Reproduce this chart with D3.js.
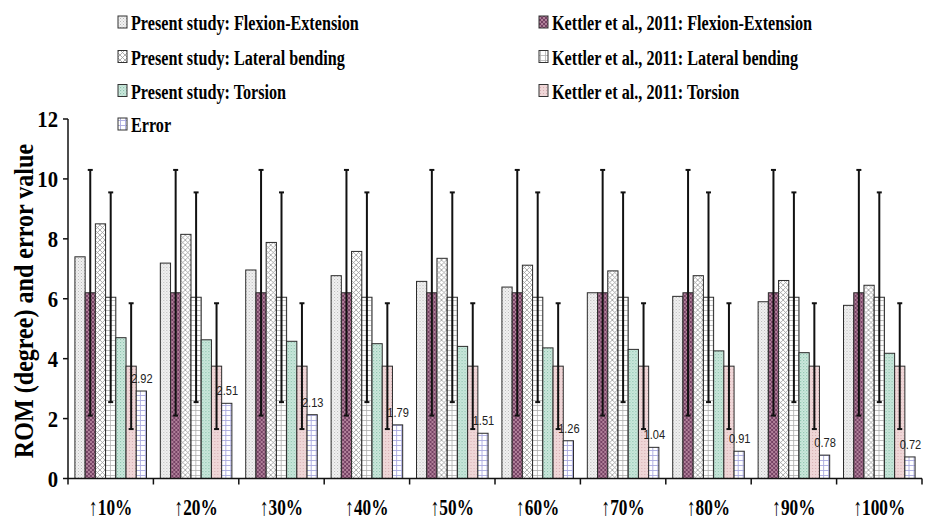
<!DOCTYPE html>
<html>
<head>
<meta charset="utf-8">
<script src="https://cdn.jsdelivr.net/npm/d3@7"></script>
<style>
  html, body { margin: 0; padding: 0; background: #fff; }
  svg { display: block; }
</style>
</head>
<body>
<svg id="chart" width="925" height="521"></svg>
<script>
// Range of motion per load step
const categories = ["↑10%", "↑20%", "↑30%", "↑40%", "↑50%", "↑60%", "↑70%", "↑80%", "↑90%", "↑100%"];
const seriesNames = [
  "Present study: Flexion-Extension",
  "Kettler et al., 2011: Flexion-Extension",
  "Present study: Lateral bending",
  "Kettler et al., 2011: Lateral bending",
  "Present study: Torsion",
  "Kettler et al., 2011: Torsion",
  "Error"
];
const presentFE = [7.4, 7.19, 6.96, 6.77, 6.58, 6.39, 6.2, 6.08, 5.9, 5.78];
const kettlerFE = [6.2, 6.2, 6.2, 6.2, 6.2, 6.2, 6.2, 6.2, 6.2, 6.2];
const presentLB = [8.5, 8.15, 7.88, 7.58, 7.35, 7.12, 6.93, 6.77, 6.61, 6.45];
const kettlerLB = [6.05, 6.05, 6.05, 6.05, 6.05, 6.05, 6.05, 6.05, 6.05, 6.05];
const presentT = [4.7, 4.63, 4.58, 4.5, 4.41, 4.36, 4.31, 4.26, 4.2, 4.18];
const kettlerT = [3.75, 3.75, 3.75, 3.75, 3.75, 3.75, 3.75, 3.75, 3.75, 3.75];
const errorValues = [2.92, 2.51, 2.13, 1.79, 1.51, 1.26, 1.04, 0.91, 0.78, 0.72];
// Standard deviations reported for the reference data
const kettlerFESD = [4.1, 4.1, 4.1, 4.1, 4.1, 4.1, 4.1, 4.1, 4.1, 4.1];
const kettlerLBSD = [3.5, 3.5, 3.5, 3.5, 3.5, 3.5, 3.5, 3.5, 3.5, 3.5];
const kettlerTSD = [2.1, 2.1, 2.1, 2.1, 2.1, 2.1, 2.1, 2.1, 2.1, 2.1];
const yTicks = [0, 2, 4, 6, 8, 10, 12];

const seriesValues = [presentFE, kettlerFE, presentLB, kettlerLB, presentT, kettlerT, errorValues];
const seriesSD = [null, kettlerFESD, null, kettlerLBSD, null, kettlerTSD, null];

const SERIF = "'Liberation Serif', 'Times New Roman', 'DejaVu Serif', serif";
const NARROW = "'Liberation Sans Narrow', 'Arial Narrow', 'Liberation Sans', sans-serif";

const svg = d3.select("#chart");
const defs = svg.append("defs");

// Hatch fills for each series
function pattern(id, size, bg, draw) {
  const p = defs.append("pattern").attr("id", id)
    .attr("patternUnits", "userSpaceOnUse").attr("width", size).attr("height", size);
  p.append("rect").attr("width", size).attr("height", size).attr("fill", bg);
  draw(p);
}
pattern("pFE", 3, "#f2f2f2", p => {
  p.append("rect").attr("x", 0).attr("y", 0).attr("width", 1).attr("height", 1).attr("fill", "#b8b8b8");
  p.append("rect").attr("x", 1.5).attr("y", 1.5).attr("width", 1).attr("height", 1).attr("fill", "#c8c8c8");
});
pattern("kFE", 4, "#b08099", p => {
  p.append("path").attr("d", "M0,0 L4,4 M4,0 L0,4").attr("stroke", "#6e3b5e").attr("stroke-width", 0.9);
});
pattern("pLB", 5, "#ffffff", p => {
  p.append("path").attr("d", "M0,0 L5,5 M5,0 L0,5").attr("stroke", "#9a9a9a").attr("stroke-width", 0.8);
});
pattern("kLB", 5, "#ffffff", p => {
  p.append("path").attr("d", "M0,0.5 H5 M0.5,0 V5").attr("stroke", "#b0b0b0").attr("stroke-width", 0.8);
});
pattern("pT", 3, "#cfeadf", p => {
  p.append("rect").attr("x", 0).attr("y", 0).attr("width", 1.2).attr("height", 1.2).attr("fill", "#8cc2ad");
  p.append("rect").attr("x", 1.5).attr("y", 1.5).attr("width", 1.2).attr("height", 1.2).attr("fill", "#a8d4c3");
});
pattern("kT", 3, "#efd6d7", p => {
  p.append("rect").attr("x", 0).attr("y", 0).attr("width", 1).attr("height", 1).attr("fill", "#d6aeb2");
});
pattern("err", 5, "#ffffff", p => {
  p.append("path").attr("d", "M0,0.5 H5 M0.5,0 V5").attr("stroke", "#a9a9df").attr("stroke-width", 0.9);
});
const fills = ["url(#pFE)", "url(#kFE)", "url(#pLB)", "url(#kLB)", "url(#pT)", "url(#kT)", "url(#err)"];

const margin = { left: 68, right: 922, top: 119, bottom: 478.5 };

const x0 = d3.scaleBand().domain(categories).range([margin.left, margin.right])
  .paddingInner(0.162).paddingOuter(0.081);
const x1 = d3.scaleBand().domain(d3.range(seriesNames.length)).range([0, x0.bandwidth()]);
const y = d3.scaleLinear().domain([0, 12]).range([margin.bottom, margin.top]);

// Bars
const groups = svg.append("g").selectAll("g").data(categories).join("g")
  .attr("transform", c => `translate(${x0(c)},0)`);
groups.selectAll("rect")
  .data((c, i) => seriesValues.map((vals, s) => ({ s, v: vals[i] })))
  .join("rect")
  .attr("x", d => x1(d.s))
  .attr("width", x1.bandwidth())
  .attr("y", d => y(d.v))
  .attr("height", d => y(0) - y(d.v))
  .attr("fill", d => fills[d.s])
  .attr("stroke", "#2a2a2a").attr("stroke-width", 1);

// Value labels above the error series
const labelLayer = svg.append("g");
categories.forEach((c, i) => {
  const cx = x0(c) + x1(6) + x1.bandwidth() / 2;
  labelLayer.append("text")
    .attr("font-family", NARROW).attr("fill", "#222")
    .attr("transform", `translate(${cx + 0.5},${y(errorValues[i]) - 8}) scale(0.85,1)`)
    .attr("text-anchor", "middle").attr("font-size", 13)
    .text(errorValues[i].toFixed(2));
});

// Error bars on the reference series
const eb = svg.append("g").attr("stroke", "#111").attr("stroke-width", 2);
categories.forEach((c, i) => {
  seriesSD.forEach((sd, s) => {
    if (!sd) return;
    const cx = x0(c) + x1(s) + x1.bandwidth() / 2;
    const hi = y(seriesValues[s][i] + sd[i]);
    const lo = y(seriesValues[s][i] - sd[i]);
    eb.append("line").attr("x1", cx).attr("x2", cx).attr("y1", hi).attr("y2", lo);
    eb.append("line").attr("x1", cx - 2.5).attr("x2", cx + 2.5).attr("y1", hi).attr("y2", hi);
    eb.append("line").attr("x1", cx - 2.5).attr("x2", cx + 2.5).attr("y1", lo).attr("y2", lo);
  });
});

// Axes
const axes = svg.append("g").attr("stroke", "#111").attr("stroke-width", 1.5);
axes.append("line").attr("x1", margin.left).attr("x2", margin.left).attr("y1", y(12)).attr("y2", y(0));
axes.append("line").attr("x1", margin.left).attr("x2", margin.right).attr("y1", y(0)).attr("y2", y(0));
yTicks.forEach(t => {
  axes.append("line").attr("x1", margin.left - 5).attr("x2", margin.left).attr("y1", y(t)).attr("y2", y(t));
});
const boundaries = categories.map(c => x0(c) - x0.step() * x0.paddingInner() / 2)
  .concat([margin.right]);
boundaries.forEach(bx => {
  axes.append("line").attr("x1", bx).attr("x2", bx).attr("y1", y(0)).attr("y2", y(0) + 6);
});

// Tick labels
yTicks.forEach(t => {
  svg.append("text")
    .attr("font-family", SERIF).attr("font-weight", "bold").attr("fill", "#000")
    .attr("transform", `translate(58,${y(t)}) scale(0.9,1)`).attr("dy", "0.35em")
    .attr("text-anchor", "end").attr("font-size", 23)
    .text(t);
});
categories.forEach(c => {
  const cx = x0(c) + x0.bandwidth() / 2;
  svg.append("text")
    .attr("font-family", SERIF).attr("font-weight", "bold").attr("fill", "#000")
    .attr("transform", `translate(${cx},515) scale(0.72,1)`)
    .attr("text-anchor", "middle").attr("font-size", 24)
    .text(c);
});

// Y axis title
svg.append("text")
  .attr("font-family", SERIF).attr("font-weight", "bold").attr("fill", "#000")
  .attr("transform", "translate(32.5,301) rotate(-90) scale(0.86,1)")
  .attr("text-anchor", "middle").attr("font-size", 28)
  .text("ROM (degree) and error value");

// Legend
const legendItems = [
  { s: 0, col: 0, row: 0 }, { s: 2, col: 0, row: 1 }, { s: 4, col: 0, row: 2 }, { s: 6, col: 0, row: 3 },
  { s: 1, col: 1, row: 0 }, { s: 3, col: 1, row: 1 }, { s: 5, col: 1, row: 2 }
];
const colX = [118, 539];
const rowY = [30, 64.5, 98.5, 132];
const legend = svg.append("g");
legendItems.forEach(it => {
  const lx = colX[it.col], ly = rowY[it.row];
  legend.append("rect").attr("x", lx).attr("y", ly - 14).attr("width", 9).attr("height", 12)
    .attr("fill", fills[it.s]).attr("stroke", "#333").attr("stroke-width", 1);
  legend.append("text")
    .attr("font-family", SERIF).attr("font-weight", "bold").attr("fill", "#000")
    .attr("transform", `translate(${lx + 13},${ly}) scale(0.735,1)`)
    .attr("font-size", 22)
    .text(seriesNames[it.s]);
});
</script>
</body>
</html>
